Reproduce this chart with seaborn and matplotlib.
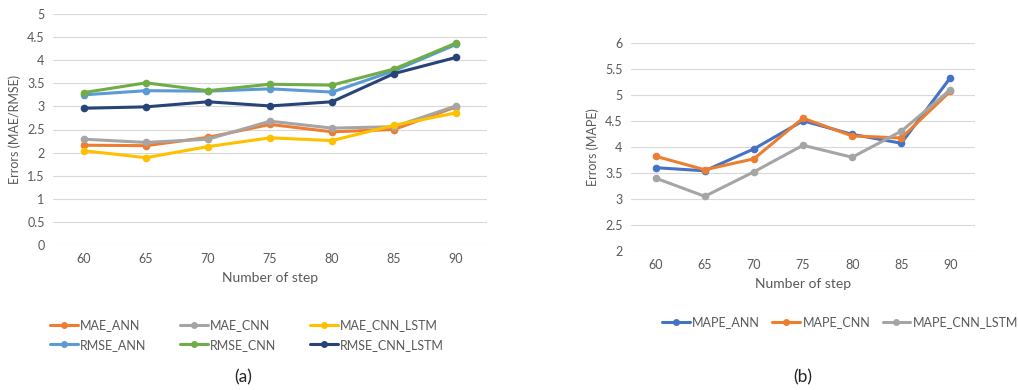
import pandas as pd
import matplotlib.pyplot as plt
import seaborn as sns
from matplotlib.lines import Line2D

steps = [60, 65, 70, 75, 80, 85, 90]

mae_ann = [2.16, 2.15, 2.33, 2.61, 2.45, 2.50, 2.99]
mae_cnn = [2.29, 2.22, 2.29, 2.68, 2.53, 2.56, 3.01]
mae_cnn_lstm = [2.04, 1.89, 2.13, 2.32, 2.26, 2.59, 2.86]
rmse_ann = [3.25, 3.34, 3.33, 3.38, 3.31, 3.77, 4.34]
rmse_cnn = [3.30, 3.51, 3.34, 3.48, 3.46, 3.81, 4.37]
rmse_cnn_lstm = [2.96, 2.99, 3.10, 3.01, 3.10, 3.71, 4.06]

mape_ann = [3.60, 3.54, 3.96, 4.50, 4.24, 4.07, 5.33]
mape_cnn = [3.82, 3.56, 3.77, 4.55, 4.21, 4.17, 5.07]
mape_cnn_lstm = [3.40, 3.05, 3.52, 4.03, 3.80, 4.30, 5.10]

left_series = {
    "MAE_ANN": (mae_ann, "#ED7D31"),
    "MAE_CNN": (mae_cnn, "#A5A5A5"),
    "MAE_CNN_LSTM": (mae_cnn_lstm, "#FFC000"),
    "RMSE_ANN": (rmse_ann, "#5B9BD5"),
    "RMSE_CNN": (rmse_cnn, "#70AD47"),
    "RMSE_CNN_LSTM": (rmse_cnn_lstm, "#264478"),
}
right_series = {
    "MAPE_ANN": (mape_ann, "#4472C4"),
    "MAPE_CNN": (mape_cnn, "#ED7D31"),
    "MAPE_CNN_LSTM": (mape_cnn_lstm, "#A5A5A5"),
}

sns.set_theme(style="white")
plt.rcParams["font.family"] = ["Lato", "DejaVu Sans"]
txt = "#595959"

fig = plt.figure(figsize=(10.18, 3.9), dpi=100)
ax1 = fig.add_axes([53/1018, 1-245/390, 434/1018, 231/390])
ax2 = fig.add_axes([631/1018, 1-251/390, 344/1018, 208.3/390])


def draw(ax, series, ylim, yticks, ylabel):
    for name, (vals, color) in series.items():
        df = pd.DataFrame({"step": steps, "value": vals})
        sns.lineplot(data=df, x="step", y="value", ax=ax, color=color,
                     marker="o", markersize=5.5, markeredgewidth=0,
                     linewidth=2.2, label=name, legend=False)
    ax.set_xlim(57.5, 92.5)
    ax.set_ylim(*ylim)
    ax.set_xticks(steps)
    ax.set_yticks(yticks)
    ax.set_yticklabels([f"{t:g}" for t in yticks])
    ax.grid(axis="y", color="#D9D9D9", linewidth=0.8)
    ax.set_axisbelow(True)
    for s in ax.spines.values():
        s.set_visible(False)
    ax.tick_params(axis="both", length=0, labelsize=9, labelcolor=txt, pad=6)
    ax.set_xlabel("Number of step", fontsize=10, color=txt, labelpad=5)
    ax.set_ylabel(ylabel, fontsize=9, color=txt, labelpad=4)


draw(ax1, left_series, (0, 5), [i * 0.5 for i in range(11)], "Errors (MAE/RMSE)")
draw(ax2, right_series, (2, 6), [2 + i * 0.5 for i in range(9)], "Errors (MAPE)")


def handles(series, names):
    return [Line2D([0], [0], color=series[n][1], lw=2.2, marker="o", markersize=5,
                   markeredgewidth=0) for n in names]


# legend fills column-wise, so interleave to get row-wise order
left_order = ["MAE_ANN", "RMSE_ANN", "MAE_CNN", "RMSE_CNN", "MAE_CNN_LSTM", "RMSE_CNN_LSTM"]
fig.legend(handles(left_series, left_order), left_order, ncol=3, frameon=False,
           loc="center", bbox_to_anchor=(247/1018, 1-335/390), fontsize=9,
           labelcolor=txt, handlelength=2.2, handletextpad=0.2, columnspacing=2.7,
           labelspacing=0.6)
right_order = list(right_series.keys())
fig.legend(handles(right_series, right_order), right_order, ncol=3, frameon=False,
           loc="center", bbox_to_anchor=(840/1018, 1-322/390), fontsize=9,
           labelcolor=txt, handlelength=2.2, handletextpad=0.2, columnspacing=1.0)

fig.text(243/1018, 1-377/390, "(a)", ha="center", va="center", fontsize=12.5, color="#222222")
fig.text(803/1018, 1-377/390, "(b)", ha="center", va="center", fontsize=12.5, color="#222222")

fig.savefig("out.png", dpi=100)
